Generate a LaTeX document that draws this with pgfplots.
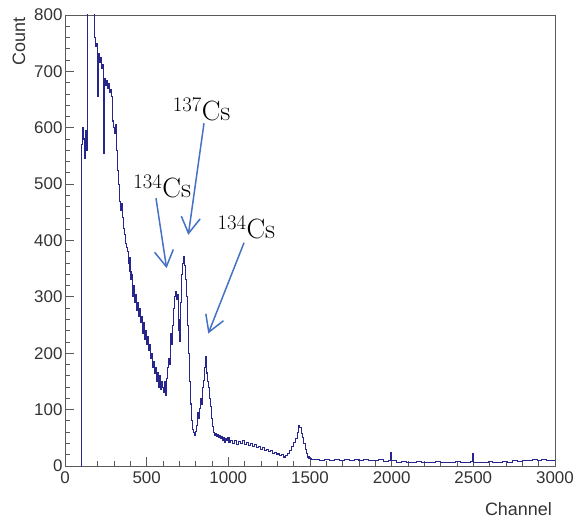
\documentclass[border=0pt]{standalone}
\usepackage{fontspec}
\setsansfont{Liberation Sans}
\usepackage{pgfplots}
\pgfplotsset{compat=1.18}
\usetikzlibrary{arrows.meta}
\definecolor{histblue}{RGB}{38,38,140}
\definecolor{arrblue}{RGB}{68,114,196}
\definecolor{framegrey}{RGB}{90,90,90}

\begin{document}
\begin{tikzpicture}
\path[use as bounding box] (0,0) rectangle (576bp,520bp);
\begin{axis}[
  name=ax, at={(65bp,54bp)}, anchor=south west,
  scale only axis, width=490bp, height=451bp,
  xmin=0, xmax=3000, ymin=0, ymax=800,
  xtick={0,500,...,3000}, ytick={0,100,...,800},
  minor x tick num=4, minor y tick num=4,
  tick align=inside, xtick pos=bottom, ytick pos=left,
  major tick length=9bp, minor tick length=5bp,
  axis line style={framegrey, line width=0.8bp},
  tick style={framegrey, line width=0.8bp},
  tick label style={font=\sffamily\fontsize{17}{17}\selectfont, text=black!80},
  /pgf/number format/assume math mode=true,
  /pgf/number format/1000 sep={},
  xticklabel style={yshift=-2bp},
  yticklabel style={xshift=1bp},
]
\addplot[const plot mark left, histblue, line width=1.05bp] coordinates {
  (98,0) (100,570) (106,600) (112,580) (118,545) (124,595) (130,560)
  (136,1000) (150,1500) (166,1100) (180,760) (186,745) (192,750) (198,655)
  (204,732) (210,715) (216,725) (222,705) (228,712) (236,555) (242,688)
  (248,675) (254,684) (260,670) (266,678) (272,662) (278,668) (284,655)
  (290,612) (296,600) (302,590) (308,605) (314,560) (320,525) (326,500)
  (332,470) (338,454) (344,465) (350,440) (356,422) (362,410) (368,395)
  (374,388) (380,380) (386,360) (392,370) (398,345) (404,330) (410,340)
  (416,300) (422,320) (428,290) (434,305) (440,275) (446,290) (452,265)
  (458,280) (464,255) (470,265) (476,235) (482,255) (488,225) (494,240)
  (500,215) (506,230) (512,205) (518,215) (524,190) (530,200) (536,175)
  (542,185) (548,165) (554,175) (560,150) (566,165) (572,140) (578,160)
  (584,135) (590,150) (596,140) (602,130) (608,150) (614,125) (620,155)
  (626,175) (632,190) (638,180) (644,235) (650,215) (656,250) (662,280)
  (668,300) (674,310) (680,295) (686,305) (692,260) (698,240) (704,220)
  (710,290) (716,340) (722,360) (728,372) (734,355) (740,330) (746,300)
  (752,250) (758,200) (764,150) (770,110) (776,80) (782,65) (788,60)
  (794,55) (800,62) (806,72) (812,95) (818,85) (824,102) (830,120)
  (836,110) (842,140) (848,152) (854,175) (860,195) (866,165) (872,150)
  (878,140) (884,120) (890,105) (896,85) (902,70) (908,60) (914,55)
  (920,58) (926,52) (932,56) (938,50) (944,54) (950,48) (956,52)
  (962,45) (968,50) (974,42) (980,48) (986,45) (992,50) (1004,42)
  (1016,46) (1028,40) (1040,45) (1052,38) (1064,44) (1076,40) (1088,46)
  (1100,38) (1112,42) (1124,36) (1136,40) (1148,35) (1160,38) (1172,32)
  (1184,34) (1196,30) (1208,32) (1220,27) (1232,30) (1244,25) (1256,27)
  (1268,23) (1280,24) (1292,20) (1304,22) (1316,18) (1328,20) (1340,16)
  (1352,19) (1364,22) (1376,28) (1388,35) (1400,42) (1412,48) (1422,60)
  (1430,72) (1438,68) (1446,58) (1454,50) (1462,40) (1470,30) (1478,22)
  (1486,16) (1494,13) (1506,11) (1530,11) (1560,10) (1590,12) (1620,9)
  (1650,11) (1680,10) (1710,12) (1740,9) (1770,11) (1800,10) (1830,12)
  (1860,9) (1890,10) (1920,11) (1950,8) (1980,9) (1992,24) (1998,9)
  (2030,7) (2060,8) (2090,6) (2120,7) (2150,8) (2180,6) (2210,7)
  (2240,6) (2270,8) (2300,7) (2330,6) (2360,7) (2390,8) (2420,6)
  (2450,7) (2480,8) (2494,23) (2500,7) (2530,6) (2560,7) (2590,8)
  (2620,6) (2650,7) (2680,8) (2710,7) (2740,9) (2770,8) (2800,10)
  (2830,9) (2860,11) (2890,9) (2920,12) (2950,10) (2980,9) (3000,9)};
% annotations
\draw[arrblue, line width=1.5bp, -{Straight Barb[length=16bp,width=19bp]}]
  (axis cs:851,608) -- (axis cs:755,410);
\draw[arrblue, line width=1.5bp, -{Straight Barb[length=16bp,width=19bp]}]
  (axis cs:557,475) -- (axis cs:622,351);
\draw[arrblue, line width=1.5bp, -{Straight Barb[length=16bp,width=19bp]}]
  (axis cs:1096,396) -- (axis cs:877,235);
\node[anchor=base west, inner sep=0pt, font=\fontsize{28}{30}\selectfont]
  at (axis cs:659,613) {$^{137}$Cs};
\node[anchor=base west, inner sep=0pt, font=\fontsize{28}{30}\selectfont]
  at (axis cs:418,477) {$^{134}$Cs};
\node[anchor=base west, inner sep=0pt, font=\fontsize{28}{30}\selectfont]
  at (axis cs:933,404) {$^{134}$Cs};
\end{axis}
\node[rotate=90, anchor=base east, inner sep=0pt,
      font=\sffamily\fontsize{18}{18}\selectfont, text=black!80]
  at ([xshift=-40bp, yshift=-2bp]ax.north west) {Count};
\node[anchor=base east, inner sep=0pt,
      font=\sffamily\fontsize{18}{18}\selectfont, text=black!80]
  at ([xshift=-3bp, yshift=-49bp]ax.south east) {Channel};
\end{tikzpicture}
\end{document}
